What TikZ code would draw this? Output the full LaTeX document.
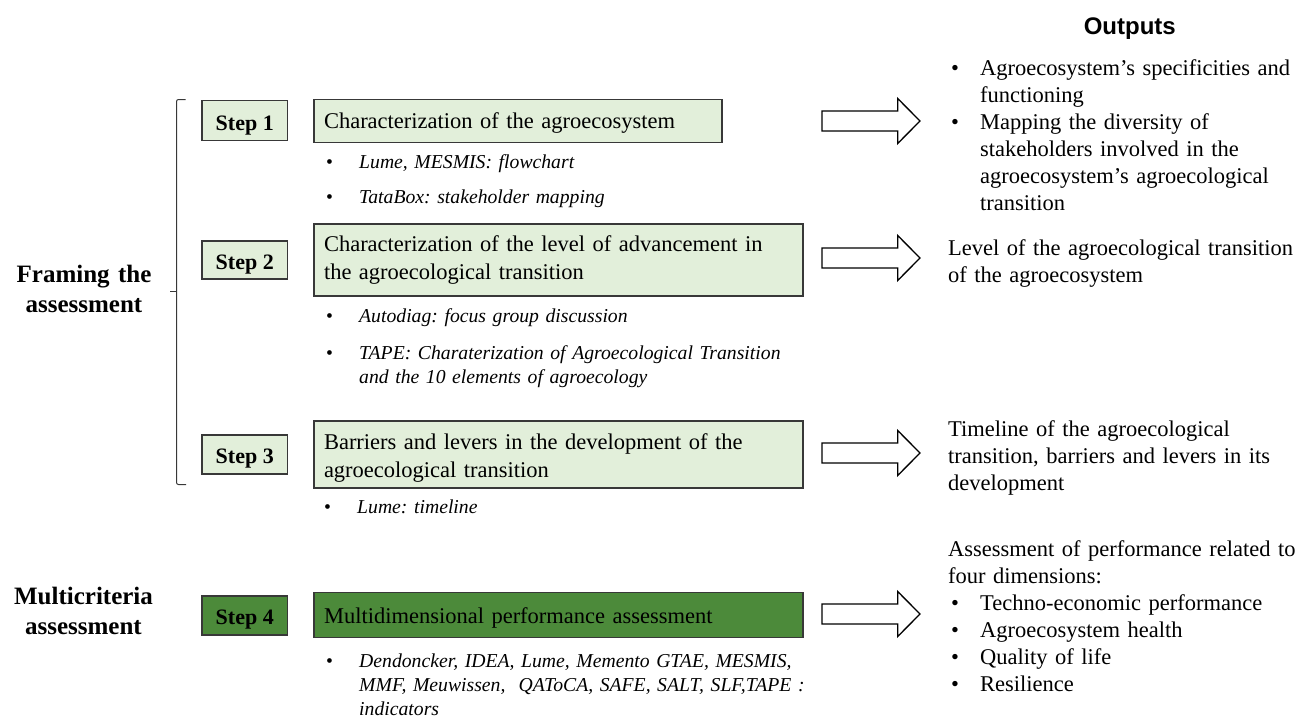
\documentclass[tikz,border=0pt]{standalone}
\usepackage{fontspec}
\setmainfont{Liberation Serif}
\newfontfamily\hdfont{Liberation Sans}
\usetikzlibrary{calc}
\definecolor{lightgr}{HTML}{E2EFDA}
\definecolor{darkgr}{HTML}{4C8A3A}
\definecolor{edge}{HTML}{383838}
\frenchspacing
\newcommand\obul[1]{\noindent\hangindent=32pt\hangafter=1\makebox[32pt][l]{\hspace{3pt}\textbullet}#1\par}
\newcommand\ibul[1]{\noindent\hangindent=33pt\hangafter=1\makebox[33pt][l]{\textbullet}\textit{#1}\par}
\begin{document}
\begin{tikzpicture}[x=1pt,y=-1pt,
  stepbox/.style={draw=edge, line width=1.2pt, fill=lightgr, minimum width=85.5pt, inner sep=0pt, text height=18.6pt, text depth=0pt, font=\fontsize{22}{26}\selectfont\bfseries},
  mainbox/.style={draw=edge, line width=1.2pt, fill=lightgr, inner xsep=10pt, inner ysep=0pt, align=left, font=\fontsize{22.5}{28.6}\selectfont},
  tool/.style={anchor=base west, inner sep=0pt, text width=520pt, font=\fontsize{19.7}{24}\selectfont},
  outtxt/.style={anchor=base west, inner sep=0pt, text width=400pt, font=\fontsize{22.5}{27}\selectfont},
  side/.style={anchor=base, inner sep=0pt, text width=170pt, align=center, font=\fontsize{25}{30}\selectfont\bfseries},
  barrow/.style={draw=black, line width=1.3pt, fill=white, line join=miter},
  brace/.style={draw=edge, line width=1pt}
]
\useasboundingbox (0,0) rectangle (1296,717);

% side labels
\node[side] (fr) at (84,282.5) {Framing the\\ assessment};
\node[side] (mc) at (83.5,604.5) {Multicriteria\\ assessment};

% brace
\coordinate (brT) at (185.5,99.5);
\coordinate (brB) at (186,484.5);
\coordinate (brM) at (170,291.7);
\draw[brace, rounded corners=2pt] (brT) -- (176.5,99.5) -- (176.5,484.5) -- (brB);
\draw[brace] (176.5,291.7) -- (brM);

% step boxes
\node[stepbox, minimum height=40pt] (st1) at (244.75,120.7) {Step 1};
\node[stepbox, minimum height=38pt] (st2) at (244.75,260) {Step 2};
\node[stepbox, minimum height=39pt] (st3) at (244.75,454.5) {Step 3};
\node[stepbox, minimum height=39pt, fill=darkgr] (st4) at (244.75,615.5) {Step 4};

% main boxes
\node[mainbox, text width=388pt, minimum height=43pt, text height=18pt, text depth=2pt] (b1) at (518,120.8) {Characterization of the agroecosystem};
\node[mainbox, text width=469pt, minimum height=72pt, text height=16pt] (b2) at (558.5,260) {Characterization of the level of advancement in\\ the agroecological transition};
\node[mainbox, text width=469pt, minimum height=67pt, text height=22.6pt] (b3) at (558.5,454.5) {Barriers and levers in the development of the\\ agroecological transition};
\node[mainbox, text width=469pt, minimum height=45pt, text height=18pt, text depth=2pt, fill=darkgr] (b4) at (558.5,615.2) {Multidimensional performance assessment};

% tools
\node[tool] (t1a) at (326,168) {\ibul{Lume, MESMIS: flowchart}};
\node[tool] (t1b) at (326,203.5) {\ibul{TataBox: stakeholder mapping}};
\node[tool] (t2a) at (326,322.5) {\ibul{Autodiag: focus group discussion}};
\node[tool] (t2b) at (326,359.5) {\ibul{TAPE: Charaterization of Agroecological Transition\newline and the 10 elements of agroecology}};
\node[tool] (t3a) at (324,513.5) {\ibul{Lume: timeline}};
\node[tool] (t4a) at (326,667) {\ibul{Dendoncker, IDEA, Lume, Memento GTAE, MESMIS,\newline MMF, Meuwissen,\ \ QAToCA, SAFE, SALT, SLF,TAPE :\newline indicators}};

% arrows
\coordinate (a1) at (822,121);
\coordinate (a2) at (822,258);
\coordinate (a3) at (822,453);
\coordinate (a4) at (822,614);
\foreach \a in {a1,a2,a3,a4}
  \draw[barrow] (\a) ++(0,-10) -- ++(75.7,0) -- ++(0,-12.5) -- ++(22.3,22.5) -- ++(-22.3,22.5) -- ++(0,-12.5) -- ++(-75.7,0) -- cycle;

% outputs
\node[anchor=base, inner sep=0pt, font=\hdfont\bfseries\fontsize{24}{28}\selectfont] (outh) at (1129.8,35) {Outputs};
\node[outtxt] (o1) at (948,75.5) {\obul{Agroecosystem’s specificities and\newline functioning}\obul{Mapping the diversity of\newline stakeholders involved in the\newline agroecosystem’s agroecological\newline transition}};
\node[outtxt] (o2) at (948,255.3) {\noindent Level of the agroecological transition\newline of the agroecosystem};
\node[outtxt] (o3) at (948,436.5) {\noindent Timeline of the agroecological\newline transition, barriers and levers in its\newline development};
\node[outtxt] (o4) at (948,556) {\noindent Assessment of performance related to\newline four dimensions:\par\obul{Techno-economic performance}\obul{Agroecosystem health}\obul{Quality of life}\obul{Resilience}};
\end{tikzpicture}
\end{document}
